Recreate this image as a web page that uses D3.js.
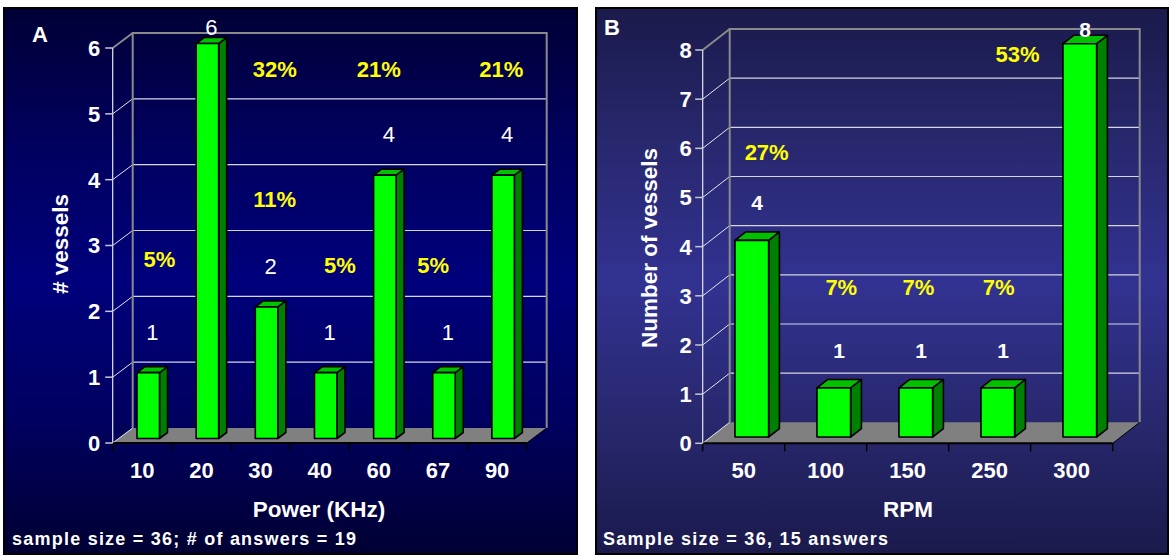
<!DOCTYPE html>
<html>
<head>
<meta charset="utf-8">
<script src="https://cdn.jsdelivr.net/npm/d3@7"></script>
<style>
  html, body { margin: 0; padding: 0; background: #fff; }
  svg { display: block; }
  text { font-family: "Liberation Sans", Arial, Helvetica, sans-serif; }
</style>
</head>
<body>
<svg id="chart" width="1170" height="556"></svg>
<script>
// Panel A: number of vessels by power setting
const powerCategories = ["10", "20", "30", "40", "60", "67", "90"];
const powerVessels = [1, 6, 2, 1, 4, 1, 4];
const powerTicks = [0, 1, 2, 3, 4, 5, 6];

// Panel B: number of vessels by RPM
const rpmCategories = ["50", "100", "150", "250", "300"];
const rpmVessels = [4, 1, 1, 1, 8];
const rpmTicks = [0, 1, 2, 3, 4, 5, 6, 7, 8];

// Where each percentage label sits, in chart units: [band position, value]
const powerPctAnchors = [[0.79, 2.67], [2.74, 5.56], [2.74, 3.58], [3.84, 2.58], [4.50, 5.56], [5.42, 2.58], [6.57, 5.56]];
const rpmPctAnchors = [[0.78, 5.76], [1.69, 3.02], [2.63, 3.02], [3.61, 3.02], [3.84, 7.76]];

const svg = d3.select("#chart");
const defs = svg.append("defs");

function drawPanel(cfg) {
  const g = svg.append("g");

  // panel background
  const grad = defs.append("linearGradient").attr("id", cfg.id + "-bg")
    .attr("x1", 0).attr("y1", 0).attr("x2", 0).attr("y2", 1);
  cfg.bg.forEach((c, i) => grad.append("stop").attr("offset", i / (cfg.bg.length - 1)).attr("stop-color", c));
  g.append("rect")
    .attr("x", cfg.box[0]).attr("y", cfg.box[1])
    .attr("width", cfg.box[2]).attr("height", cfg.box[3])
    .attr("fill", `url(#${cfg.id}-bg)`)
    .attr("stroke", "#000").attr("stroke-width", 2);

  const x = d3.scaleBand().domain(cfg.categories).range([cfg.left, cfg.right]);
  const y = d3.scaleLinear().domain([0, cfg.max]).range([cfg.bottom, cfg.top]);
  const dx = cfg.dx, dy = cfg.dy;
  const L = cfg.left, R = cfg.right;

  // floor
  g.append("path")
    .attr("d", `M${L},${cfg.bottom}L${R},${cfg.bottom}L${R + dx},${cfg.bottom + dy}L${L + dx},${cfg.bottom + dy}Z`)
    .attr("fill", "#808080");

  // gridlines on the back wall, with the diagonals running back from the front axis
  cfg.ticks.forEach(t => {
    const yy = y(t);
    if (t > 0 && t < cfg.max) {
      g.append("line")
        .attr("x1", L + dx).attr("x2", R + dx)
        .attr("y1", yy + dy).attr("y2", yy + dy)
        .attr("stroke", "#d6d6e6").attr("stroke-width", 1.2);
    }
    g.append("line")
      .attr("x1", L).attr("y1", yy).attr("x2", L + dx).attr("y2", yy + dy)
      .attr("stroke", t === cfg.max ? "#8a8a8a" : "#e6e6ee")
      .attr("stroke-width", t === cfg.max ? 2 : 1);
  });

  // back wall frame
  g.append("path")
    .attr("d", `M${L + dx},${cfg.bottom + dy}L${L + dx},${cfg.top + dy}L${R + dx},${cfg.top + dy}L${R + dx},${cfg.bottom + dy}`)
    .attr("fill", "none").attr("stroke", "#8a8a8a").attr("stroke-width", 2);

  // floor edges and category ticks
  g.append("line")
    .attr("x1", R).attr("y1", cfg.bottom).attr("x2", R + dx).attr("y2", cfg.bottom + dy)
    .attr("stroke", "#000").attr("stroke-width", 1);
  g.append("line")
    .attr("x1", L).attr("y1", cfg.bottom).attr("x2", R).attr("y2", cfg.bottom)
    .attr("stroke", "#000").attr("stroke-width", 2);
  const xEdges = cfg.categories.map(c => x(c)).concat([R]);
  g.selectAll(null).data(xEdges).enter().append("line")
    .attr("x1", d => d).attr("x2", d => d)
    .attr("y1", cfg.bottom).attr("y2", cfg.bottom + 8)
    .attr("stroke", "#000").attr("stroke-width", 1.5);

  // front value axis
  g.append("line")
    .attr("x1", L).attr("x2", L).attr("y1", cfg.top).attr("y2", cfg.bottom)
    .attr("stroke", "#e6e6ee").attr("stroke-width", 1.2);
  g.selectAll(null).data(cfg.ticks).enter().append("line")
    .attr("x1", L - 7.5).attr("x2", L)
    .attr("y1", d => y(d)).attr("y2", d => y(d))
    .attr("stroke", "#c8c8d0").attr("stroke-width", 1.5);
  g.selectAll(null).data(cfg.ticks).enter().append("text")
    .attr("x", L - cfg.tickGap).attr("y", d => y(d)).attr("dy", "0.36em")
    .attr("text-anchor", "end").attr("fill", "#fff")
    .attr("font-size", 22).attr("font-weight", "bold")
    .text(d => d);

  // category labels
  g.selectAll(null).data(cfg.categories).enter().append("text")
    .attr("x", d => x(d) + x.bandwidth() / 2).attr("y", 478)
    .attr("text-anchor", "middle").attr("fill", "#fff")
    .attr("font-size", 22).attr("font-weight", "bold")
    .text(d => d);

  // 3D bars
  const bw = x.bandwidth() * cfg.barFrac;
  const f = 0.3, depth = 0.4;
  const ddx = depth * dx, ddy = depth * dy;
  const total = d3.sum(cfg.values);
  cfg.values.forEach((v, i) => {
    const cx = x(cfg.categories[i]) + x.bandwidth() / 2 + f * dx;
    const x0 = cx - bw / 2, x1 = cx + bw / 2;
    const base = cfg.bottom + f * dy;
    const top = base - (cfg.bottom - y(v));
    const bar = g.append("g").attr("stroke", "#000").attr("stroke-width", 1.6).attr("stroke-linejoin", "round");
    bar.append("path")
      .attr("d", `M${x1},${base}L${x1 + ddx},${base + ddy}L${x1 + ddx},${top + ddy}L${x1},${top}Z`)
      .attr("fill", "#008000");
    bar.append("path")
      .attr("d", `M${x0},${top}L${x0 + ddx},${top + ddy}L${x1 + ddx},${top + ddy}L${x1},${top}Z`)
      .attr("fill", "#00c000");
    bar.append("rect")
      .attr("x", x0).attr("y", top).attr("width", bw).attr("height", base - top)
      .attr("fill", "#00ff00");

    // count label above the bar
    g.append("text")
      .attr("x", cx + ddx / 2)
      .attr("y", Math.max(cfg.top - 13, top - cfg.labelGap))
      .attr("text-anchor", "middle").attr("fill", "#fff")
      .attr("font-size", cfg.valueSize).attr("font-weight", cfg.valueWeight)
      .text(v);

    // share of answers
    const a = cfg.pctAnchors[i];
    g.append("text")
      .attr("x", L + a[0] * x.bandwidth()).attr("y", y(a[1]))
      .attr("text-anchor", "middle").attr("fill", "#ffff00")
      .attr("font-size", 22).attr("font-weight", "bold")
      .text(Math.round(v / total * 100) + "%");
  });

  // axis titles
  g.append("text")
    .attr("transform", `translate(${cfg.yTitlePos[0]},${cfg.yTitlePos[1]}) rotate(-90)`)
    .attr("text-anchor", "middle").attr("dy", "0.35em")
    .attr("fill", "#fff").attr("font-size", 22.5).attr("font-weight", "bold")
    .text(cfg.yTitle);
  g.append("text")
    .attr("x", cfg.xTitlePos[0]).attr("y", cfg.xTitlePos[1])
    .attr("text-anchor", "middle")
    .attr("fill", "#fff").attr("font-size", 22.5).attr("font-weight", "bold")
    .text(cfg.xTitle);

  // panel letter and footnote
  g.append("text")
    .attr("x", cfg.letterPos[0]).attr("y", cfg.letterPos[1])
    .attr("fill", "#fff").attr("font-size", 22).attr("font-weight", "bold")
    .text(cfg.letter);
  g.append("text")
    .attr("x", cfg.notePos[0]).attr("y", cfg.notePos[1])
    .attr("fill", "#fff").attr("font-size", 18).attr("font-weight", "bold")
    .attr("textLength", cfg.noteWidth).attr("lengthAdjust", "spacing")
    .text(cfg.note);
}

drawPanel({
  id: "power",
  box: [4, 8, 573, 546],
  bg: ["#000036", "#00005e", "#00007c", "#000060", "#000033"],
  categories: powerCategories, values: powerVessels, ticks: powerTicks, max: 6,
  pctAnchors: powerPctAnchors,
  left: 112.7, right: 526.7, top: 48, bottom: 443,
  dx: 20, dy: -15, barFrac: 0.38, tickGap: 12.5,
  labelGap: 33, valueSize: 22, valueWeight: "normal",
  yTitle: "# vessels", yTitlePos: [60, 244],
  xTitle: "Power (KHz)", xTitlePos: [319, 517],
  letter: "A", letterPos: [32, 42],
  note: "sample size = 36; # of answers = 19", notePos: [12, 545], noteWidth: 344
});

drawPanel({
  id: "rpm",
  box: [596, 8, 572, 546],
  bg: ["#1a1a4b", "#28286f", "#323292", "#28286f", "#1a1a4c"],
  categories: rpmCategories, values: rpmVessels, ticks: rpmTicks, max: 8,
  pctAnchors: rpmPctAnchors,
  left: 702.7, right: 1112.7, top: 50, bottom: 443.3,
  dx: 27, dy: -21, barFrac: 0.41, tickGap: 11,
  labelGap: 30, valueSize: 21, valueWeight: "bold",
  yTitle: "Number of vessels", yTitlePos: [649, 248],
  xTitle: "RPM", xTitlePos: [908, 517],
  letter: "B", letterPos: [604, 35],
  note: "Sample size = 36, 15 answers", notePos: [603, 545], noteWidth: 285
});
</script>
</body>
</html>
